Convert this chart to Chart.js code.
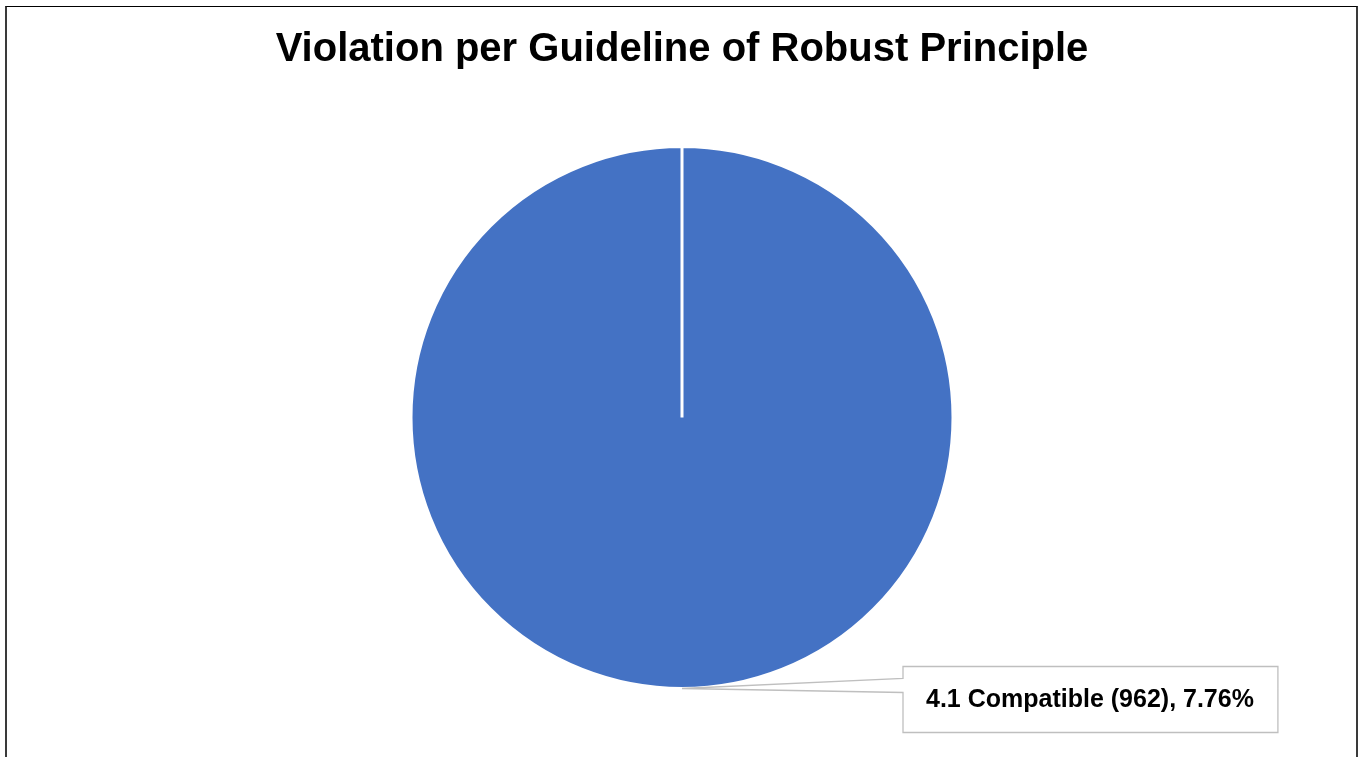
<!DOCTYPE html>
<html>
<head>
<meta charset="utf-8">
<script src="https://cdn.jsdelivr.net/npm/chart.js@4.4.0/dist/chart.umd.min.js"></script>
<style>
    html, body { margin: 0; padding: 0; background: #fff; overflow: hidden; }
    #wrap { position: relative; width: 1359px; height: 757px; }
    #frame {
        position: absolute; left: 5px; top: 6px; width: 1353px; height: 760px;
        border-top: 1px solid #000; border-left: 2px solid #3a3a3a; border-right: 2px solid #3a3a3a;
        box-sizing: border-box; pointer-events: none;
    }
</style>
</head>
<body>
<div id="wrap">
    <canvas id="pie-chart" width="1359" height="757"></canvas>
    <div id="frame"></div>
</div>
<script>
// Chart data
const chartTitle = 'Violation per Guideline of Robust Principle';
const categories = ['4.1 Compatible'];
const violationCounts = [962];
const violationPercents = [7.76]; // share of all violations, as printed on the label

// Draws the callout label box with its leader wedge pointing to the bottom of the pie
const calloutPlugin = {
    id: 'callout',
    afterDatasetsDraw(chart) {
        const ctx = chart.ctx;
        const arc = chart.getDatasetMeta(0).data[0];
        if (!arc) return;
        const ax = arc.x;
        const ay = arc.y + arc.outerRadius;

        const text = categories[0] + ' (' + violationCounts[0] + '), ' + violationPercents[0].toFixed(2) + '%';
        ctx.save();
        ctx.font = 'bold 25px "Liberation Sans", Arial, sans-serif';
        const tw = ctx.measureText(text).width;
        const boxX = ax + 221;
        const boxY = ay - 22;
        const boxW = tw + 47;
        const boxH = 66;

        ctx.beginPath();
        ctx.moveTo(ax, ay);
        ctx.lineTo(boxX, boxY + 12);
        ctx.lineTo(boxX, boxY);
        ctx.lineTo(boxX + boxW, boxY);
        ctx.lineTo(boxX + boxW, boxY + boxH);
        ctx.lineTo(boxX, boxY + boxH);
        ctx.lineTo(boxX, boxY + 26);
        ctx.closePath();
        ctx.fillStyle = '#ffffff';
        ctx.fill();
        ctx.strokeStyle = '#bfbfbf';
        ctx.lineWidth = 1.3;
        ctx.stroke();

        ctx.fillStyle = '#000000';
        ctx.textAlign = 'left';
        ctx.textBaseline = 'middle';
        ctx.fillText(text, boxX + 23, boxY + boxH / 2 + 1);
        ctx.restore();
    }
};

const ctx = document.getElementById('pie-chart').getContext('2d');
const chart = new Chart(ctx, {
    type: 'pie',
    data: {
        labels: categories,
        datasets: [
            {
                data: violationCounts,
                backgroundColor: ['#4472c4'],
                borderColor: '#ffffff',
                borderWidth: 3
            }
        ]
    },
    options: {
        responsive: false,
        animation: false,
        layout: {
            padding: { left: 5, right: 0, top: 0, bottom: 67 }
        },
        plugins: {
            legend: { display: false },
            tooltip: { enabled: false },
            title: {
                display: true,
                text: chartTitle,
                color: '#000000',
                font: { family: '"Liberation Sans", Arial, sans-serif', size: 40, weight: 'bold' },
                padding: { top: 26, bottom: 71 }
            }
        }
    },
    plugins: [calloutPlugin]
});
</script>
</body>
</html>
